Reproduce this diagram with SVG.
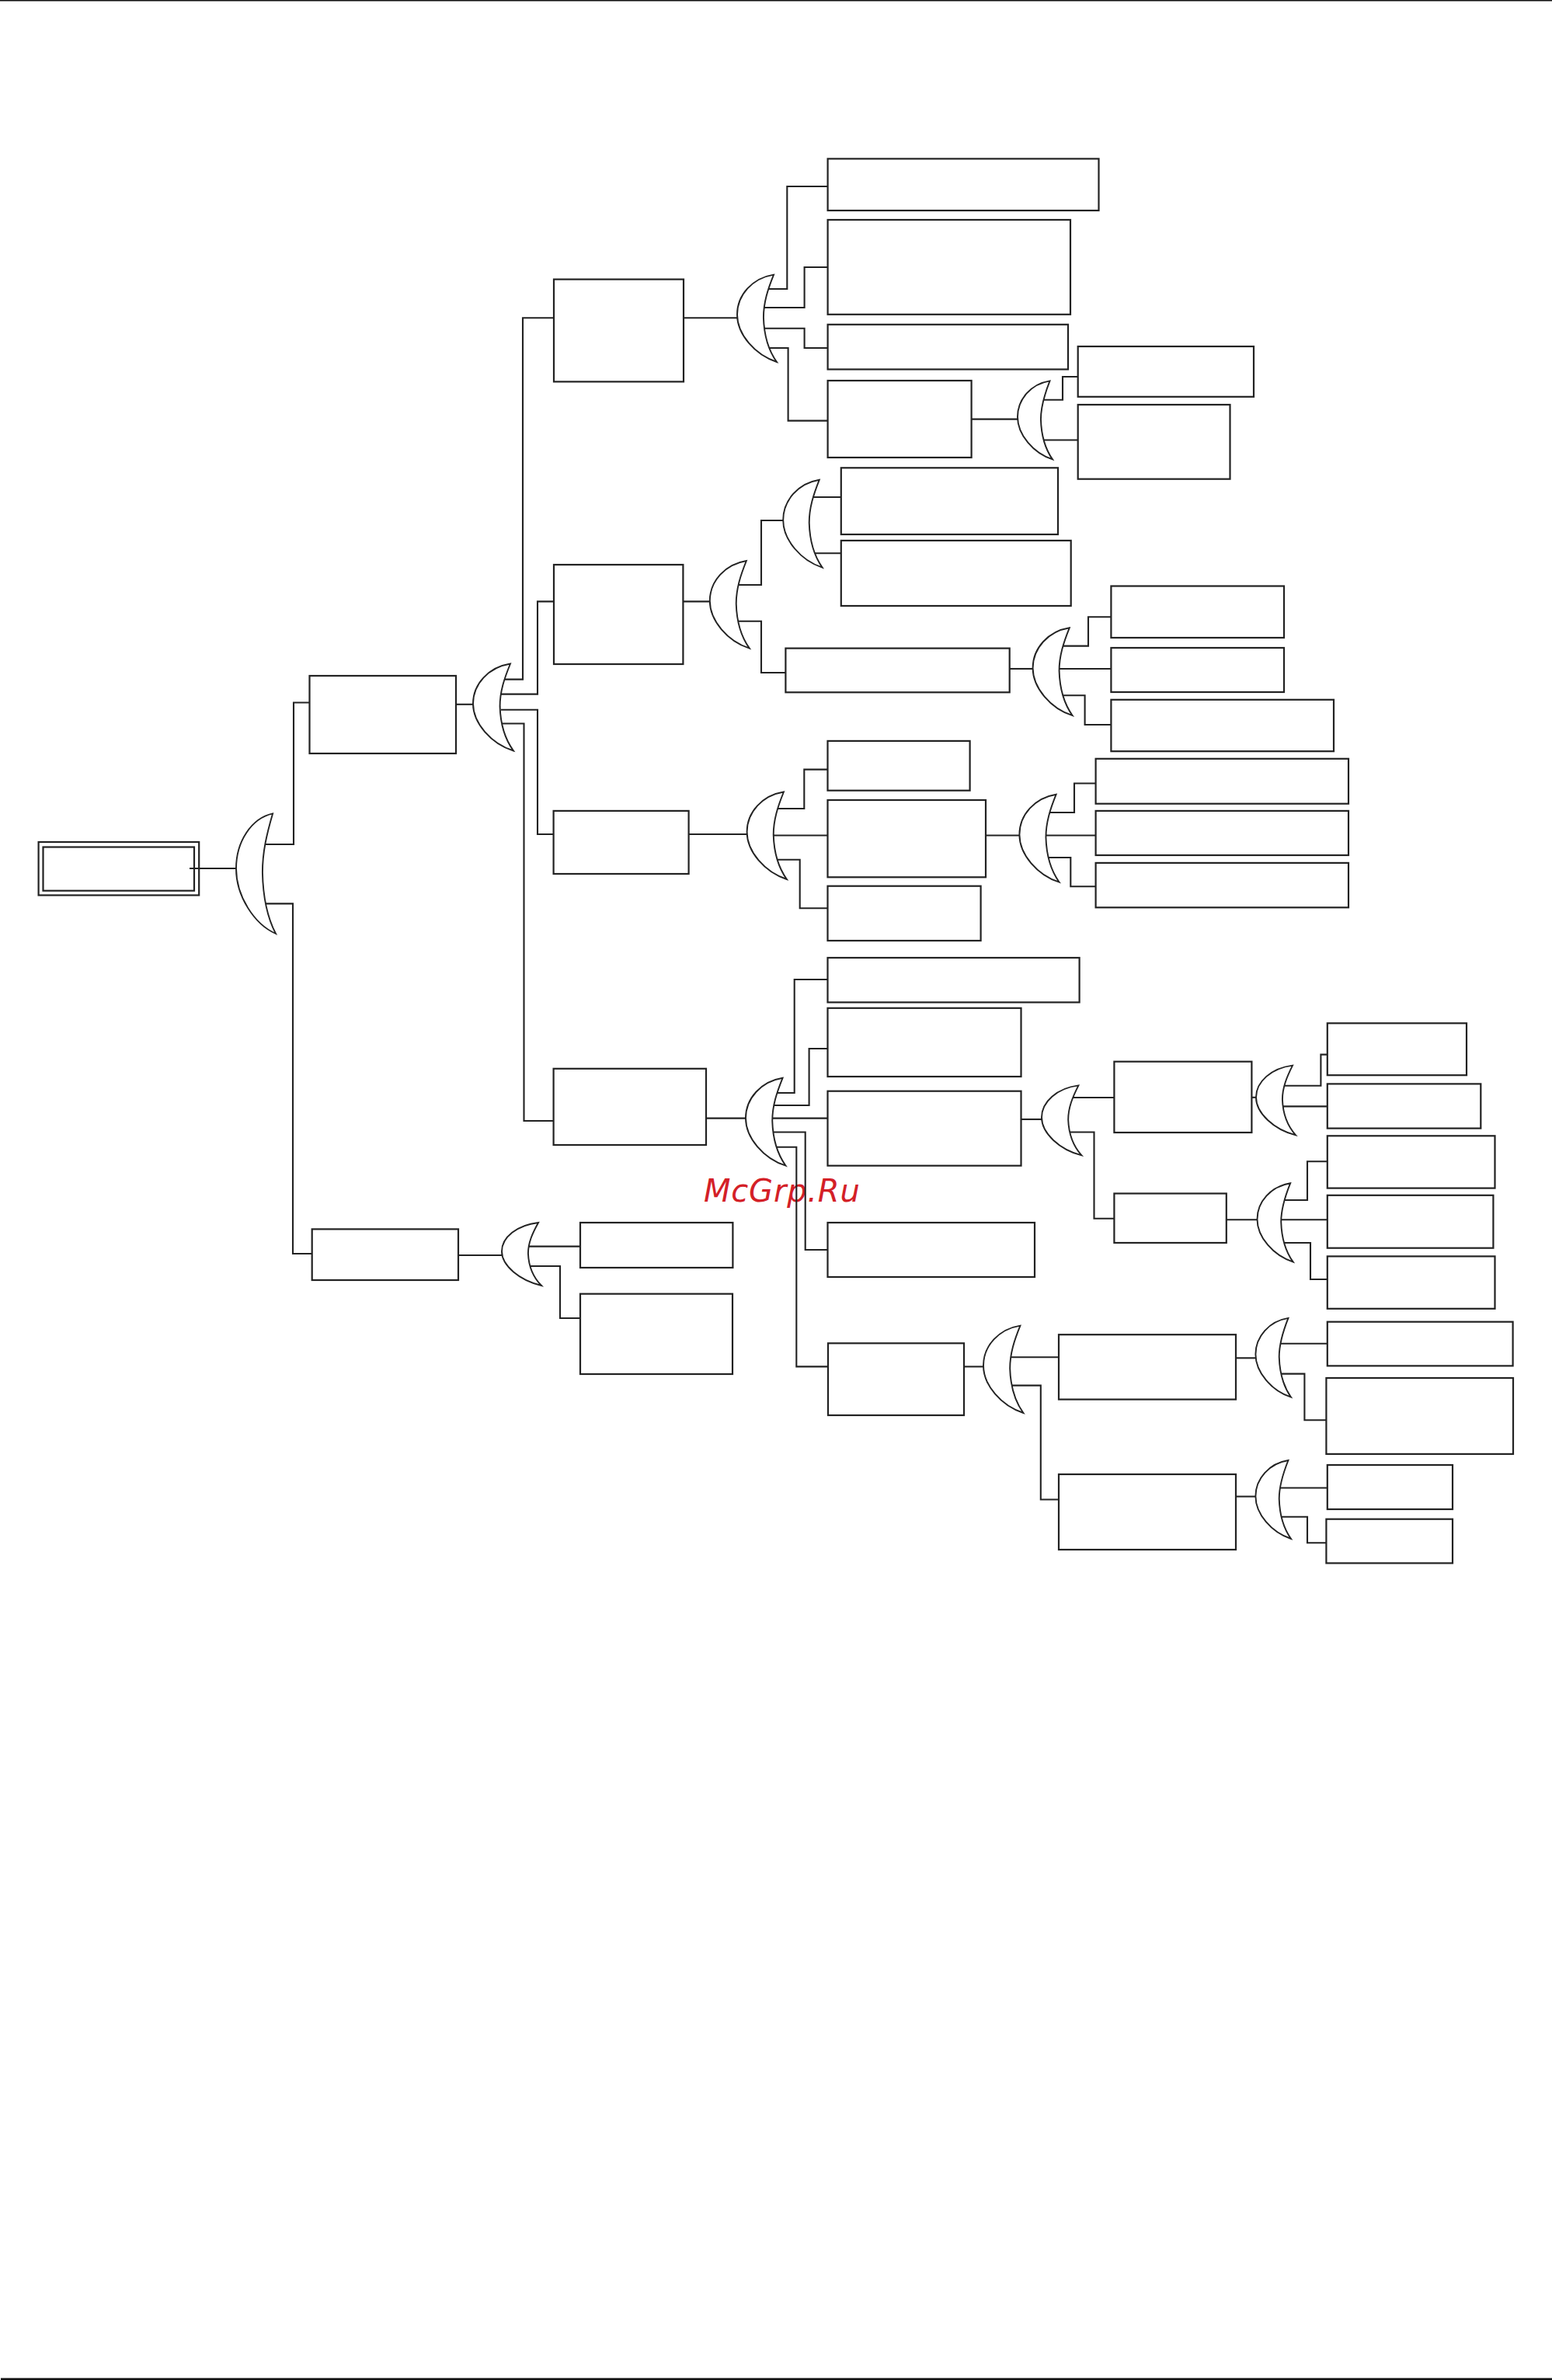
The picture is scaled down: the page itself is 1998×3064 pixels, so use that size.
<svg xmlns="http://www.w3.org/2000/svg" width="1998" height="3064" viewBox="0 0 1998 3064">
<style>
.n{fill:#fff;stroke:#222;stroke-width:2.2}
.c{fill:none;stroke:#222;stroke-width:2.1}
.g{fill:#fff;stroke:#222;stroke-width:1.9;vector-effect:non-scaling-stroke;stroke-linejoin:miter}
.w{font-family:"DejaVu Sans",sans-serif;font-style:oblique;font-size:40px;letter-spacing:.8px;fill:#d42027}
</style>
<defs>
<path id="gate" class="g" d="M.923 0C.387 .039 0 .232 0 .458C0 .685 .452 .92 1 1C.774 .856 .677 .684 .665 .49C.665 .318 .774 .168 .923 0Z"/>
</defs>
<rect width="1998" height="1.5" fill="#111"/>
<rect x="1" y="3061.5" width="1997" height="2.5" fill="#111"/>
<text class="w" x="906" y="1546.5">McGrp.Ru</text>
<g id="root"><rect class="n" x="49.6" y="1084" width="206.6" height="68.5"/><rect class="n" x="55.5" y="1090.5" width="194.5" height="56.2"/></g>
<g id="a"><rect class="n" x="398.5" y="870" width="188.5" height="100"/></g>
<g id="e"><rect class="n" x="401.7" y="1582.4" width="188.3" height="65.6"/></g>
<g id="b"><rect class="n" x="713" y="359.6" width="167" height="131.8"/></g>
<g id="c"><rect class="n" x="713" y="727" width="166.4" height="128"/></g>
<g id="d"><rect class="n" x="712.6" y="1043.9" width="174" height="81.1"/></g>
<g id="f"><rect class="n" x="712.6" y="1375.8" width="196.4" height="98.2"/></g>
<g id="n1"><rect class="n" x="1065.6" y="204.4" width="348.9" height="66.6"/></g>
<g id="n2"><rect class="n" x="1065.6" y="283" width="312.4" height="121.8"/></g>
<g id="n3"><rect class="n" x="1065.6" y="417.8" width="309.4" height="57.7"/></g>
<g id="n4"><rect class="n" x="1065.6" y="490" width="185" height="99"/></g>
<g id="n5"><rect class="n" x="1387.7" y="446" width="226.3" height="64.8"/></g>
<g id="n6"><rect class="n" x="1387.7" y="521" width="195.8" height="95.7"/></g>
<g id="n7"><rect class="n" x="1082.8" y="602.3" width="279.2" height="85.7"/></g>
<g id="n8"><rect class="n" x="1082.8" y="695.9" width="295.9" height="84.1"/></g>
<g id="n9"><rect class="n" x="1011.4" y="834.6" width="288.3" height="56.7"/></g>
<g id="n10"><rect class="n" x="1430.4" y="754.5" width="222.6" height="66.5"/></g>
<g id="n11"><rect class="n" x="1430.4" y="834" width="222.6" height="57"/></g>
<g id="n12"><rect class="n" x="1430.4" y="900.8" width="286.6" height="66.4"/></g>
<g id="n14"><rect class="n" x="1065.5" y="953.9" width="183.1" height="63.8"/></g>
<g id="n15"><rect class="n" x="1065.5" y="1030" width="203.5" height="99.3"/></g>
<g id="n16"><rect class="n" x="1065.5" y="1140.7" width="197.1" height="70.3"/></g>
<g id="n17"><rect class="n" x="1410.6" y="976.8" width="325.4" height="57.9"/></g>
<g id="n18"><rect class="n" x="1410.6" y="1043.9" width="325.4" height="57.1"/></g>
<g id="n19"><rect class="n" x="1410.6" y="1110.9" width="325.4" height="57.4"/></g>
<g id="n21"><rect class="n" x="1065.5" y="1233" width="324.1" height="57.4"/></g>
<g id="n22"><rect class="n" x="1065.5" y="1297.8" width="249" height="88.2"/></g>
<g id="n23"><rect class="n" x="1065.5" y="1404.7" width="249" height="96"/></g>
<g id="n24"><rect class="n" x="1065.5" y="1574" width="266.5" height="70"/></g>
<g id="n25"><rect class="n" x="1434.4" y="1366.7" width="177" height="91.3"/></g>
<g id="n26"><rect class="n" x="1434.4" y="1536.5" width="144.4" height="63.5"/></g>
<g id="n27"><rect class="n" x="1708.8" y="1317.3" width="179.2" height="66.9"/></g>
<g id="n28"><rect class="n" x="1708.8" y="1395.4" width="197.5" height="57.2"/></g>
<g id="n29"><rect class="n" x="1708.8" y="1462.3" width="215.7" height="67.3"/></g>
<g id="n30"><rect class="n" x="1708.8" y="1538.8" width="213.6" height="67.9"/></g>
<g id="n31"><rect class="n" x="1708.8" y="1617.4" width="215.7" height="67.4"/></g>
<g id="n32"><rect class="n" x="1066" y="1729.3" width="175" height="92.7"/></g>
<g id="n33"><rect class="n" x="1363" y="1718.2" width="228" height="83.4"/></g>
<g id="n34"><rect class="n" x="1363" y="1898" width="228" height="97"/></g>
<g id="n35"><rect class="n" x="1708.8" y="1701.7" width="238.8" height="56.7"/></g>
<g id="n36"><rect class="n" x="1707.4" y="1774" width="240.6" height="97.9"/></g>
<g id="n37"><rect class="n" x="1708.8" y="1886" width="161.2" height="57"/></g>
<g id="n38"><rect class="n" x="1707.4" y="1955.7" width="162.6" height="56.7"/></g>
<g id="n39"><rect class="n" x="747" y="1574" width="196.4" height="58"/></g>
<g id="n40"><rect class="n" x="747" y="1665.7" width="196" height="103.3"/></g>
<g id="connectors" class="c">
<path d="M244 1118H304"/>
<path d="M340 1087H378V904.5H398.5"/>
<path d="M340 1163.4H377V1614H401.7"/>
<path d="M587 906.8H609"/>
<path d="M648 874.6H673V409.3H713"/>
<path d="M645 893.6H692V774.4H713"/>
<path d="M645 913.7H692V1074H712.6"/>
<path d="M645 931.5H674.5V1443H712.6"/>
<path d="M880 409.3H949"/>
<path d="M985 372H1013.3V240H1065.6"/>
<path d="M983 396H1035.6V344H1065.6"/>
<path d="M983 422.8H1035.6V448H1065.6"/>
<path d="M985 448H1014.6V541.6H1065.6"/>
<path d="M1250.6 539.6H1310"/>
<path d="M1342 514.8H1368V485H1387.7"/>
<path d="M1342 566.5H1387.7"/>
<path d="M879.4 774.4H913.8"/>
<path d="M948 753H980V670H1008.2"/>
<path d="M1044 640H1082.8"/>
<path d="M1044 712.3H1082.8"/>
<path d="M948 799.8H980V866H1011.4"/>
<path d="M1299.7 861H1329.6"/>
<path d="M1366 831.6H1401V794.3H1430"/>
<path d="M1364 861H1430"/>
<path d="M1366 895.3H1396.6V933H1430"/>
<path d="M886.6 1074H961.6"/>
<path d="M998 1041H1035.3V990.6H1065.5"/>
<path d="M996 1075.5H1065.5"/>
<path d="M998 1106.8H1029.7V1169.2H1065.5"/>
<path d="M1269 1075.5H1312.4"/>
<path d="M1349 1046H1383V1008.5H1410.6"/>
<path d="M1347 1075.5H1410.6"/>
<path d="M1349 1104H1378.3V1141.2H1410.6"/>
<path d="M909 1439.6H960"/>
<path d="M998 1407H1022.7V1261H1065.5"/>
<path d="M996 1423H1041.6V1350H1065.5"/>
<path d="M995 1439.6H1065.5"/>
<path d="M996 1457.5H1036.7V1609H1065.5"/>
<path d="M998 1476.8H1025.3V1759.4H1066"/>
<path d="M1314.5 1441H1341"/>
<path d="M1378 1413H1434.5"/>
<path d="M1376 1457.5H1408.5V1568.7H1434.5"/>
<path d="M1611.5 1412.8H1617"/>
<path d="M1653 1397.8H1700.4V1357.6H1708.8"/>
<path d="M1652 1424.4H1708.8"/>
<path d="M1578.6 1570.3H1618.5"/>
<path d="M1652 1545H1683V1495.2H1708.8"/>
<path d="M1650 1570.3H1708.8"/>
<path d="M1652 1600H1687V1647H1708.8"/>
<path d="M1241 1759.4H1266"/>
<path d="M1302 1747.3H1363"/>
<path d="M1302 1783.6H1339.8V1930.5H1363"/>
<path d="M1591 1748.3H1616.4"/>
<path d="M1648 1729.8H1708.8"/>
<path d="M1648 1768.6H1679.4V1828.2H1707.4"/>
<path d="M1591 1926.6H1616.4"/>
<path d="M1648 1915.5H1708.8"/>
<path d="M1648 1952.8H1683V1986.2H1707.4"/>
<path d="M590 1616H646"/>
<path d="M680 1604.6H747"/>
<path d="M680 1630H721V1697H747"/>
</g>
<g id="g1"><use href="#gate" transform="translate(304 1047.4) scale(51 154.6)"/></g>
<g id="g2"><use href="#gate" transform="translate(609 854.5) scale(52 112)"/></g>
<g id="g3"><use href="#gate" transform="translate(646 1574) scale(51 81)"/></g>
<g id="g4"><use href="#gate" transform="translate(949 353.6) scale(51 112.4)"/></g>
<g id="g5"><use href="#gate" transform="translate(1310 490.4) scale(45 101)"/></g>
<g id="g6"><use href="#gate" transform="translate(913.8 722) scale(51 112.6)"/></g>
<g id="g7"><use href="#gate" transform="translate(1008.2 617.8) scale(50.4 112.8)"/></g>
<g id="g8"><use href="#gate" transform="translate(1329.6 808.3) scale(51.1 112.9)"/></g>
<g id="g9"><use href="#gate" transform="translate(961.6 1019.5) scale(51.3 112.5)"/></g>
<g id="g10"><use href="#gate" transform="translate(1312.4 1022.7) scale(51.2 113)"/></g>
<g id="g11"><use href="#gate" transform="translate(960 1387.8) scale(51.5 112.9)"/></g>
<g id="g12"><use href="#gate" transform="translate(1341 1397.4) scale(51.4 90)"/></g>
<g id="g13"><use href="#gate" transform="translate(1617 1371.6) scale(51 89.7)"/></g>
<g id="g14"><use href="#gate" transform="translate(1618.5 1523.3) scale(46.2 101.3)"/></g>
<g id="g15"><use href="#gate" transform="translate(1266 1706.6) scale(51.4 112.4)"/></g>
<g id="g16"><use href="#gate" transform="translate(1616.4 1696.9) scale(45.6 101.8)"/></g>
<g id="g17"><use href="#gate" transform="translate(1616.4 1880) scale(45.6 101)"/></g>
</svg>
